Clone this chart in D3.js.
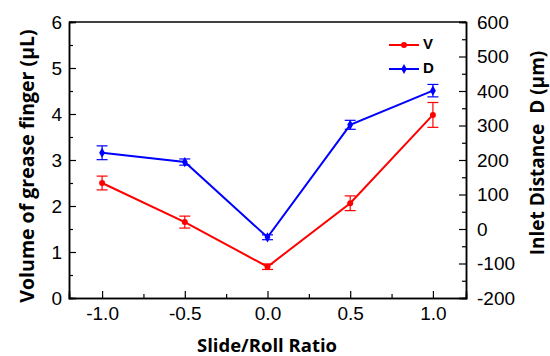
<!DOCTYPE html>
<html>
<head>
<meta charset="utf-8">
<script src="https://cdn.jsdelivr.net/npm/d3@7"></script>
<style>
  body { margin: 0; background: #fff; }
  svg text { font-family: "Liberation Sans", Arial, sans-serif; }
</style>
</head>
<body>
<svg id="chart" width="550" height="356"></svg>
<script>
// Slide/Roll ratio vs grease finger volume and inlet distance
const ratios = [-1.0, -0.5, 0.0, 0.5, 1.0];
const volume = [2.50, 1.65, 0.68, 2.06, 3.98];
const volumeErr = [0.15, 0.13, 0.06, 0.16, 0.27];
const distance = [221, 194, -24, 302, 401];
const distanceErr = [20, 9, 7, 13, 18];
const xTicks = [-1.0, -0.5, 0.0, 0.5, 1.0];
const leftTicks = [0, 1, 2, 3, 4, 5, 6];
const rightTicks = [-200, -100, 0, 100, 200, 300, 400, 500, 600];

(function() {
    const svg = d3.select('#chart');
    const margin = { top: 22, right: 84, bottom: 58, left: 69 };
    const width = 550, height = 356;
    const plotWidth = width - margin.left - margin.right;
    const plotHeight = height - margin.top - margin.bottom;

    const g = svg.append('g')
        .attr('transform', `translate(${margin.left}, ${margin.top})`);

    const xScale = d3.scaleLinear().domain([-1.2, 1.2]).range([0, plotWidth]);
    const yLeft = d3.scaleLinear().domain([0, 6]).range([plotHeight, 0]);
    const yRight = d3.scaleLinear().domain([-200, 600]).range([plotHeight, 0]);

    // minor ticks (inward)
    const minor = (axis, scale, vals) => axis(scale).tickValues(vals).tickSize(-4).tickFormat('');

    const fmtX = d3.format('.1f');
    g.append('g')
        .attr('transform', `translate(0, ${plotHeight})`)
        .call(d3.axisBottom(xScale).tickValues(xTicks).tickSize(-7).tickPadding(9)
            .tickFormat(d => fmtX(d).replace('−', '-')));
    g.append('g')
        .attr('transform', `translate(0, ${plotHeight})`)
        .call(minor(d3.axisBottom, xScale, [-0.75, -0.25, 0.25, 0.75]));

    g.append('g')
        .call(d3.axisLeft(yLeft).tickValues(leftTicks).tickSize(-7).tickPadding(7)
            .tickFormat(d => String(d)));
    g.append('g')
        .call(minor(d3.axisLeft, yLeft, [0.5, 1.5, 2.5, 3.5, 4.5, 5.5]));

    g.append('g')
        .attr('transform', `translate(${plotWidth}, 0)`)
        .call(d3.axisRight(yRight).tickValues(rightTicks).tickSize(-7).tickPadding(11)
            .tickFormat(d => String(d)));
    g.append('g')
        .attr('transform', `translate(${plotWidth}, 0)`)
        .call(minor(d3.axisRight, yRight, [-150, -50, 50, 150, 250, 350, 450, 550]));

    // top frame line
    g.append('line')
        .attr('x1', 0).attr('x2', plotWidth).attr('y1', 0).attr('y2', 0)
        .attr('stroke', '#000').attr('stroke-width', 1.5);

    svg.selectAll('.domain').attr('stroke', '#000').attr('stroke-width', 1.5);
    svg.selectAll('.tick line').attr('stroke', '#000').attr('stroke-width', 1.2);
    svg.selectAll('.tick text').attr('font-size', '19px').attr('fill', '#000');

    // series
    const series = [
        { name: 'V', color: '#ff0000', values: volume, errs: volumeErr, y: yLeft, marker: 'circle' },
        { name: 'D', color: '#0000ff', values: distance, errs: distanceErr, y: yRight, marker: 'diamond' }
    ];

    series.forEach(s => {
        const pts = ratios.map((r, i) => ({ x: r, v: s.values[i], e: s.errs[i] }));
        const line = d3.line().x(d => xScale(d.x)).y(d => s.y(d.v));

        g.append('path')
            .datum(pts)
            .attr('fill', 'none')
            .attr('stroke', s.color)
            .attr('stroke-width', 2)
            .attr('d', line);

        const eb = g.append('g').selectAll('g').data(pts).join('g');
        eb.append('line')
            .attr('x1', d => xScale(d.x)).attr('x2', d => xScale(d.x))
            .attr('y1', d => s.y(d.v - d.e)).attr('y2', d => s.y(d.v + d.e))
            .attr('stroke', s.color).attr('stroke-width', 1.2);
        [-1, 1].forEach(sign => {
            eb.append('line')
                .attr('x1', d => xScale(d.x) - 5.5).attr('x2', d => xScale(d.x) + 5.5)
                .attr('y1', d => s.y(d.v + sign * d.e)).attr('y2', d => s.y(d.v + sign * d.e))
                .attr('stroke', s.color).attr('stroke-width', 1.2);
        });

        const sym = s.marker === 'circle' ? d3.symbolCircle : d3.symbolDiamond;
        g.append('g').selectAll('path').data(pts).join('path')
            .attr('transform', d => `translate(${xScale(d.x)}, ${s.y(d.v)})`)
            .attr('d', d3.symbol(sym, s.marker === 'circle' ? 28 : 30))
            .attr('fill', s.color);
    });

    // legend
    const legend = g.append('g').attr('transform', `translate(${389 - margin.left}, ${45 - margin.top})`);
    series.forEach((s, i) => {
        const y = i * 24;
        legend.append('line')
            .attr('x1', 0).attr('x2', 30).attr('y1', y).attr('y2', y)
            .attr('stroke', s.color).attr('stroke-width', 2);
        legend.append('path')
            .attr('transform', `translate(15, ${y})`)
            .attr('d', d3.symbol(s.marker === 'circle' ? d3.symbolCircle : d3.symbolDiamond, 28))
            .attr('fill', s.color);
        legend.append('text')
            .attr('x', 34).attr('y', y)
            .attr('dominant-baseline', 'middle')
            .attr('font-size', '15px')
            .attr('font-weight', 'bold')
            .text(s.name);
    });

    // axis titles
    svg.append('text')
        .attr('transform', 'rotate(-90)')
        .attr('x', -166).attr('y', 34)
        .attr('text-anchor', 'middle')
        .attr('font-size', '19.5px')
        .attr('font-weight', 'bold')
        .style('font-family', '"Open Sans", sans-serif')
        .text('Volume of grease finger (μL)');

    svg.append('text')
        .attr('transform', 'rotate(-90)')
        .attr('x', -153).attr('y', 544)
        .attr('text-anchor', 'middle')
        .attr('font-size', '19px')
        .attr('font-weight', 'bold')
        .style('font-family', '"Open Sans", sans-serif')
        .style('white-space', 'pre')
        .text('Inlet Distance  D (μm)');

    svg.append('text')
        .attr('x', 267).attr('y', 352)
        .attr('text-anchor', 'middle')
        .attr('font-size', '18.5px')
        .attr('font-weight', 'bold')
        .style('font-family', '"Open Sans", sans-serif')
        .text('Slide/Roll Ratio');
})();
</script>
</body>
</html>
